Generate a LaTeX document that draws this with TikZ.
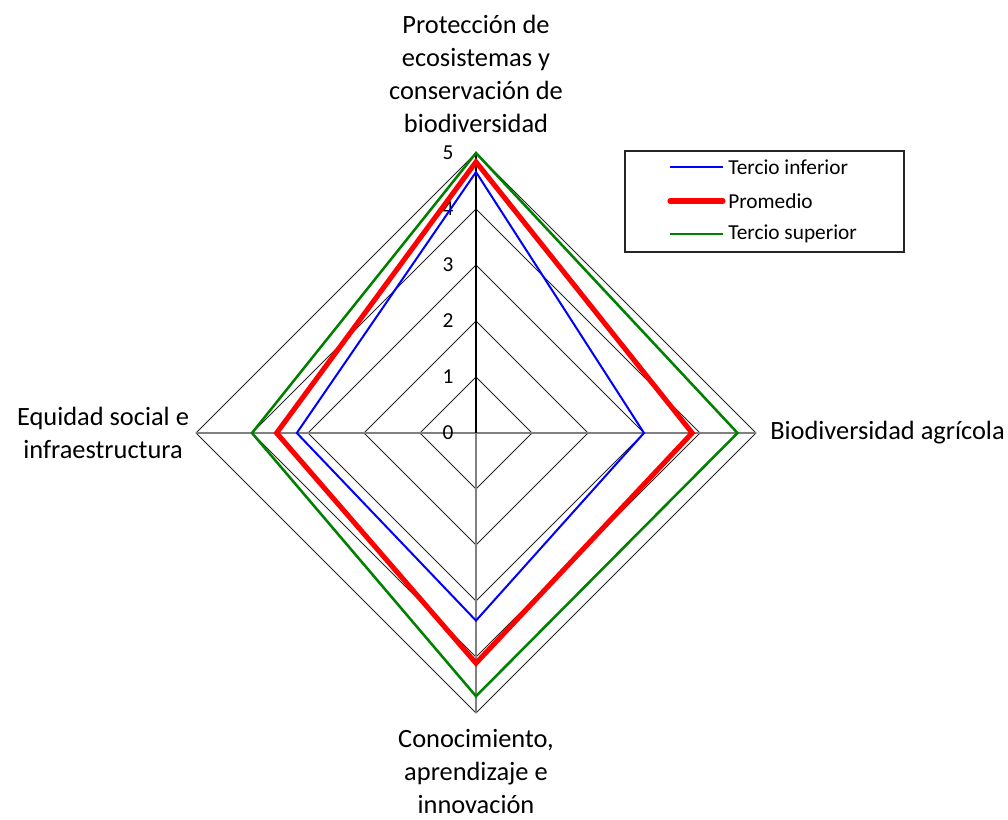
\documentclass[tikz,border=0pt]{standalone}
\usepackage{fontspec}
\setmainfont{Carlito}
\usepackage{tikz}
\usetikzlibrary{positioning}
\definecolor{seriesblue}{RGB}{0,0,255}
\definecolor{seriesred}{RGB}{255,0,0}
\definecolor{seriesgreen}{RGB}{0,128,0}
\definecolor{spokegray}{RGB}{128,128,128}
\tikzset{
  ring-line/.style={draw=black!85, line width=0.6pt},
  spoke-line/.style={draw=spokegray, line width=0.9pt},
  value-axis/.style={draw=black, line width=1.1pt},
  tick-label/.style={font=\fontsize{16}{19}\selectfont, inner sep=0pt},
  axis-label/.style={font=\fontsize{19.8}{24.75}\selectfont, align=center, inner sep=0pt},
  lower-series/.style={draw=seriesblue, line width=1.5pt},
  mean-series/.style={draw=seriesred, line width=3.8pt},
  upper-series/.style={draw=seriesgreen, line width=1.9pt},
  legend-box/.style={draw=black!85, line width=0.8pt},
  legend-text/.style={font=\fontsize{16}{19}\selectfont, anchor=west, inner sep=0pt}
}
\begin{document}
\begin{tikzpicture}[x=42pt, y=42pt]
\useasboundingbox (-8.5,7.732) rectangle (9.5,-6.893);

% Axis ends
\coordinate (o) at (0,0);
\coordinate (top) at (0,5);
\coordinate (right) at (5,0);
\coordinate (bottom) at (0,-5);
\coordinate (left) at (-5,0);

% Grid rings
\foreach \r in {1,...,5}
  \draw[ring-line] (0,\r) -- (\r,0) -- (0,-\r) -- (-\r,0) -- cycle;

% Spokes and value axis
\draw[spoke-line] (left) -- (right);
\draw[spoke-line] (o) -- (bottom);
\draw[value-axis] (o) -- (top);

% Tick labels
\foreach \r in {0,...,5}
  \node[tick-label] (tick\r) at (-0.5,\r) {\r};

% Series points
\coordinate (inf-t) at (0,4.66);
\coordinate (inf-r) at (3.0,0);
\coordinate (inf-b) at (0,-3.35);
\coordinate (inf-l) at (-3.2,0);
\coordinate (pro-t) at (0,4.84);
\coordinate (pro-r) at (3.86,0);
\coordinate (pro-b) at (0,-4.11);
\coordinate (pro-l) at (-3.56,0);
\coordinate (sup-t) at (0,5.0);
\coordinate (sup-r) at (4.67,0);
\coordinate (sup-b) at (0,-4.70);
\coordinate (sup-l) at (-4.0,0);

% Series polygons
\draw[lower-series] (inf-t) -- (inf-r) -- (inf-b) -- (inf-l) -- cycle;
\draw[mean-series] (pro-t) -- (pro-r) -- (pro-b) -- (pro-l) -- cycle;
\draw[upper-series] (sup-t) -- (sup-r) -- (sup-b) -- (sup-l) -- cycle;

% Category labels
\node[axis-label] (ecosistemas) at (0,6.41)
  {Protección de\\ecosistemas y\\conservación de\\biodiversidad};
\node[axis-label, anchor=west] (agricola) at (5.25,0) {Biodiversidad agrícola};
\node[axis-label] (conocimiento) at (0,-6.05)
  {Conocimiento,\\aprendizaje e\\innovación};
\node[axis-label] (equidad) at (-6.66,0) {Equidad social e\\infraestructura};

% Legend
\draw[legend-box] (2.661,5.036) rectangle (7.643,3.232);
\coordinate (leg-inf-a) at (3.464,4.75);
\coordinate (leg-pro-a) at (3.464,4.143);
\coordinate (leg-sup-a) at (3.464,3.554);
\node[legend-text] (leg-inf) at (4.5,4.75) {Tercio inferior};
\node[legend-text] (leg-pro) at (4.5,4.143) {Promedio};
\node[legend-text] (leg-sup) at (4.5,3.554) {Tercio superior};
\draw[lower-series] (leg-inf-a) -- ++(0.947,0);
\draw[mean-series, line cap=round] (leg-pro-a) -- ++(0.947,0);
\draw[upper-series] (leg-sup-a) -- ++(0.947,0);
\end{tikzpicture}
\end{document}
